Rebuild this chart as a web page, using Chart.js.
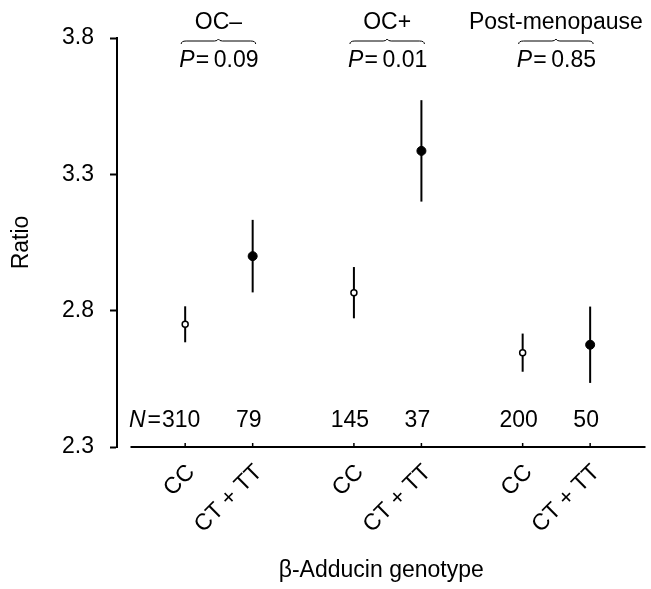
<!DOCTYPE html>
<html>
<head>
<meta charset="utf-8">
<script src="https://cdn.jsdelivr.net/npm/chart.js@4"></script>
<style>
  body { margin: 0; background: #fff; }
  #wrap { width: 651px; height: 589px; }
</style>
</head>
<body>
<div id="wrap"><canvas id="chart"></canvas></div>
<script>
// groups and genotypes
const groups = ["OC\u2013", "OC+", "Post-menopause"];
const pValues = ["0.09", "0.01", "0.85"];
const genotypes = ["CC", "CT + TT", "CC", "CT + TT", "CC", "CT + TT"];
const xPositions = [0, 1, 2.5, 3.5, 5, 6];
const counts = ["310", "79", "145", "37", "200", "50"];

// ratio means and half-widths of the error bars
const ccMeans = [2.75, 2.866, 2.646];
const ccErr = [0.066, 0.094, 0.07];
const ctMeans = [3.0, 3.386, 2.675];
const ctErr = [0.133, 0.186, 0.14];

const yTicks = [2.3, 2.8, 3.3, 3.8];

const FONT = "'Liberation Sans', Arial, sans-serif";
const FS = 23;
const N_ROW = 2.395;

const ccX = xPositions.filter((v, i) => i % 2 === 0);
const ctX = xPositions.filter((v, i) => i % 2 === 1);

const ccData = ccX.map((x, i) => ({ x: x, y: ccMeans[i] }));
const ctData = ctX.map((x, i) => ({ x: x, y: ctMeans[i] }));

const extras = {
    id: "extras",
    beforeDatasetsDraw(chart) {
        const ctx = chart.ctx;
        const xs = chart.scales.x;
        const ys = chart.scales.y;
        ctx.save();
        ctx.strokeStyle = "#000";
        ctx.lineWidth = 2;
        // error bars
        const drawBar = (x, m, e) => {
            const px = xs.getPixelForValue(x);
            ctx.beginPath();
            ctx.moveTo(px, ys.getPixelForValue(m + e));
            ctx.lineTo(px, ys.getPixelForValue(m - e));
            ctx.stroke();
        };
        ccX.forEach((x, i) => drawBar(x, ccMeans[i], ccErr[i]));
        ctX.forEach((x, i) => drawBar(x, ctMeans[i], ctErr[i]));

        // x axis line with small upward ticks
        const yb = ys.getPixelForValue(2.3);
        ctx.beginPath();
        ctx.moveTo(xs.getPixelForValue(-0.81), yb);
        ctx.lineTo(xs.right, yb);
        ctx.stroke();
        ctx.lineWidth = 1.5;
        xPositions.forEach(x => {
            const px = xs.getPixelForValue(x);
            ctx.beginPath();
            ctx.moveTo(px, yb);
            ctx.lineTo(px, yb - 4);
            ctx.stroke();
        });

        // N row
        ctx.fillStyle = "#000";
        ctx.font = FS + "px " + FONT;
        ctx.textBaseline = "middle";
        ctx.textAlign = "center";
        const ny = ys.getPixelForValue(N_ROW);
        xPositions.forEach((x, i) => {
            ctx.fillText(counts[i], xs.getPixelForValue(x) - 4, ny);
        });
        const w310 = ctx.measureText(counts[0]).width;
        ctx.textAlign = "right";
        const nStart = xs.getPixelForValue(xPositions[0]) - 4 - w310 / 2 - 1;
        ctx.fillText("=", nStart, ny);
        const wEq = ctx.measureText("=").width;
        ctx.font = "italic " + FS + "px " + FONT;
        ctx.fillText("N", nStart - wEq - 2, ny);

        // group headers with braces and P values
        const top = chart.chartArea.top;
        groups.forEach((g, i) => {
            const x0 = xs.getPixelForValue(xPositions[2 * i]) - 4;
            const x1 = xs.getPixelForValue(xPositions[2 * i + 1]) + 3;
            const cx = (x0 + x1) / 2;
            ctx.font = FS + "px " + FONT;
            ctx.textAlign = "center";
            ctx.fillText(g, cx, top - 15);
            // brace
            const by = top + 3;
            ctx.lineWidth = 1;
            ctx.beginPath();
            ctx.moveTo(x0, by + 3);
            ctx.quadraticCurveTo(x0, by, x0 + 5, by);
            ctx.lineTo(cx - 4, by);
            ctx.quadraticCurveTo(cx - 1, by, cx, by - 2);
            ctx.quadraticCurveTo(cx + 1, by, cx + 4, by);
            ctx.lineTo(x1 - 5, by);
            ctx.quadraticCurveTo(x1, by, x1, by + 3);
            ctx.stroke();
            // P value
            const rest = "=" + "\u2009" + pValues[i];
            ctx.font = FS + "px " + FONT;
            const wr = ctx.measureText(rest).width;
            ctx.font = "italic " + FS + "px " + FONT;
            const wp = ctx.measureText("P").width;
            const startX = cx - (wr + wp) / 2;
            ctx.textAlign = "left";
            ctx.fillText("P", startX, top + 23);
            ctx.font = FS + "px " + FONT;
            ctx.fillText(rest, startX + wp + 1, top + 23);
        });
        ctx.restore();
    }
};

new Chart(document.getElementById("chart"), {
    type: "scatter",
    data: {
        datasets: [
            {
                label: "CC",
                data: ccData,
                pointRadius: 3,
                pointBorderWidth: 1.5,
                pointBackgroundColor: "#fff",
                pointBorderColor: "#000",
            },
            {
                label: "CT + TT",
                data: ctData,
                pointRadius: 4.5,
                pointBorderWidth: 1,
                pointBackgroundColor: "#000",
                pointBorderColor: "#000",
            },
        ],
    },
    options: {
        responsive: true,
        maintainAspectRatio: false,
        animation: false,
        layout: { padding: { top: 38, left: 0, right: 0, bottom: 0 } },
        plugins: {
            legend: { display: false },
            tooltip: { enabled: false },
        },
        scales: {
            x: {
                type: "linear",
                min: -1.01,
                max: 6.82,
                afterFit: s => { s.height = 142; },
                afterBuildTicks: s => { s.ticks = xPositions.map(v => ({ value: v })); },
                grid: { display: false },
                border: { display: false },
                ticks: {
                    autoSkip: false,
                    minRotation: 45,
                    maxRotation: 45,
                    padding: 4,
                    labelOffset: 6,
                    color: "#000",
                    font: { family: FONT, size: FS },
                    callback: (v, i) => genotypes[i],
                },
                title: {
                    display: true,
                    text: "\u03b2-Adducin genotype",
                    color: "#000",
                    font: { family: FONT, size: FS },
                    padding: { top: 0, bottom: 5 },
                },
            },
            y: {
                min: 2.3,
                max: 3.8,
                afterFit: s => { s.width = 117; },
                afterBuildTicks: s => { s.ticks = yTicks.map(v => ({ value: v })); },
                grid: {
                    drawOnChartArea: false,
                    tickLength: 7,
                    tickWidth: 2,
                    tickColor: "#000",
                },
                border: { display: true, color: "#000", width: 2 },
                ticks: {
                    padding: 16,
                    color: "#000",
                    font: { family: FONT, size: FS },
                    callback: v => v.toFixed(1),
                },
                title: {
                    display: true,
                    text: "Ratio",
                    color: "#000",
                    font: { family: FONT, size: FS },
                    padding: { top: 8, bottom: 0 },
                },
            },
        },
    },
    plugins: [extras],
});
</script>
</body>
</html>
